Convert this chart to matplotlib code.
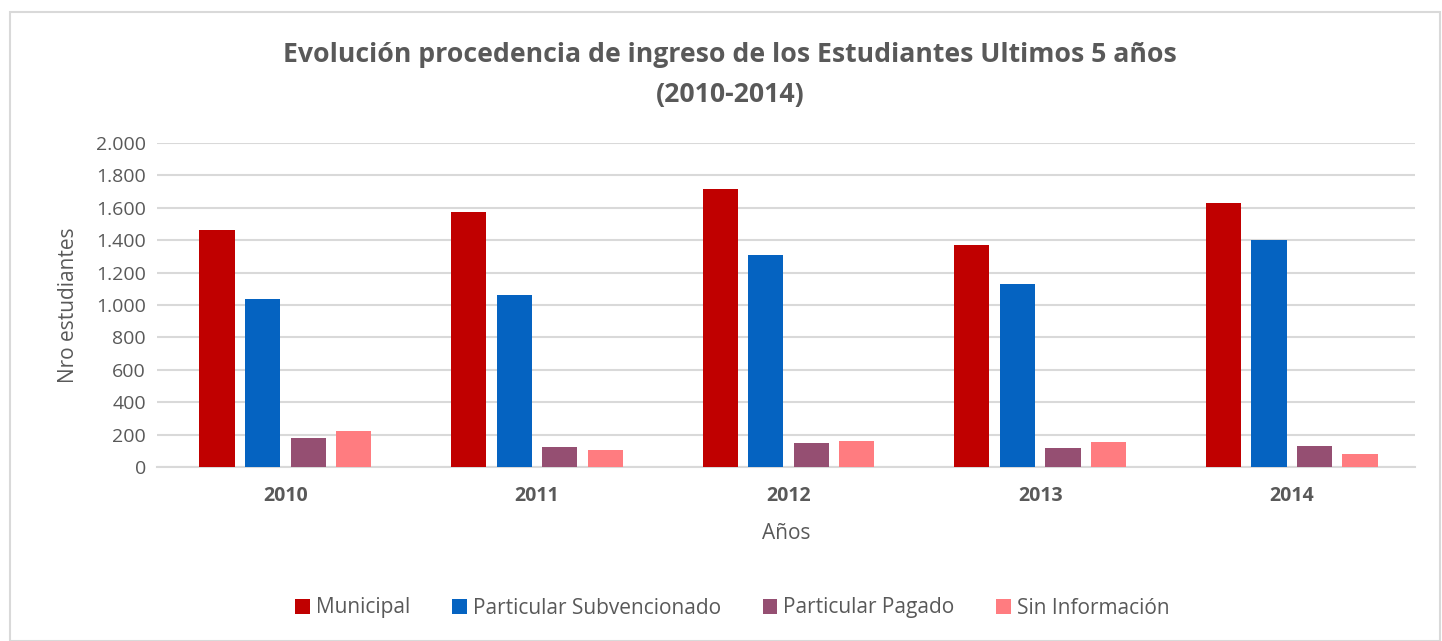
import matplotlib
matplotlib.use('Agg')
import matplotlib.pyplot as plt
from matplotlib.patches import Rectangle
from matplotlib.ticker import FuncFormatter
import numpy as np

# Data
years = ['2010', '2011', '2012', '2013', '2014']
municipal = [1465, 1576, 1718, 1370, 1632]
subvencionado = [1039, 1062, 1311, 1130, 1403]
pagado = [179, 126, 148, 117, 132]
sin_info = [222, 103, 158, 152, 82]

series_names = ['Municipal', 'Particular Subvencionado', 'Particular Pagado', 'Sin Información']
series_colors = ['#C00000', '#0563C1', '#954F72', '#FF7C80']

plt.rcParams['font.family'] = ['Open Sans', 'DejaVu Sans']
text_color = '#595959'
grid_color = '#D9D9D9'

fig = plt.figure(figsize=(14.42, 6.41), dpi=100)
ax = fig.add_axes([0.1089, 0.2715, 0.8724, 0.5055])

# outer chart border
fig.patches.append(Rectangle((10 / 1442, 0), 1430 / 1442, 1 - 12 / 641,
                             transform=fig.transFigure, fill=False,
                             edgecolor=grid_color, linewidth=1.5))

x = np.arange(len(years))
pitch = 0.181
bar_w = 0.14
all_series = [municipal, subvencionado, pagado, sin_info]
for i, (vals, name, col) in enumerate(zip(all_series, series_names, series_colors)):
    offset = (i - 1.5) * pitch + 0.01
    ax.bar(x + offset, vals, width=bar_w, color=col, label=name, zorder=3)

ax.set_xlim(-0.5, len(years) - 0.5)
ax.set_ylim(0, 2000)
ax.set_yticks(np.arange(0, 2001, 200))
ax.yaxis.set_major_formatter(FuncFormatter(lambda v, p: f'{int(v):,}'.replace(',', '.')))
ax.set_xticks(x + 0.01)
ax.set_xticklabels(years, fontweight='bold')

ax.grid(axis='y', color=grid_color, linewidth=1.5, zorder=0)
for s in ['top', 'right', 'left']:
    ax.spines[s].set_visible(False)
ax.spines['bottom'].set_color(grid_color)
ax.spines['bottom'].set_linewidth(1.5)
ax.tick_params(axis='both', length=0, colors=text_color, labelsize=14)
ax.tick_params(axis='x', pad=14)
ax.tick_params(axis='y', pad=8)

ax.set_ylabel('Nro estudiantes', fontsize=15, color=text_color, labelpad=12)
ax.set_xlabel('Años', fontsize=15, color=text_color, labelpad=12)

fig.text(0.5065, 1 - 55 / 641, 'Evolución procedencia de ingreso de los Estudiantes Ultimos 5 años',
         ha='center', va='center', fontsize=19.2, fontweight='bold', color=text_color)
fig.text(0.5065, 1 - 95 / 641, '(2010-2014)',
         ha='center', va='center', fontsize=19.2, fontweight='bold', color=text_color)

fig.legend(loc='center', bbox_to_anchor=(0.508, 1 - 608 / 641), ncol=4, frameon=False,
           fontsize=15, labelcolor=text_color, handlelength=0.7, handleheight=0.7,
           handletextpad=0.3, columnspacing=2.0)

fig.savefig('out.png', dpi=100)
